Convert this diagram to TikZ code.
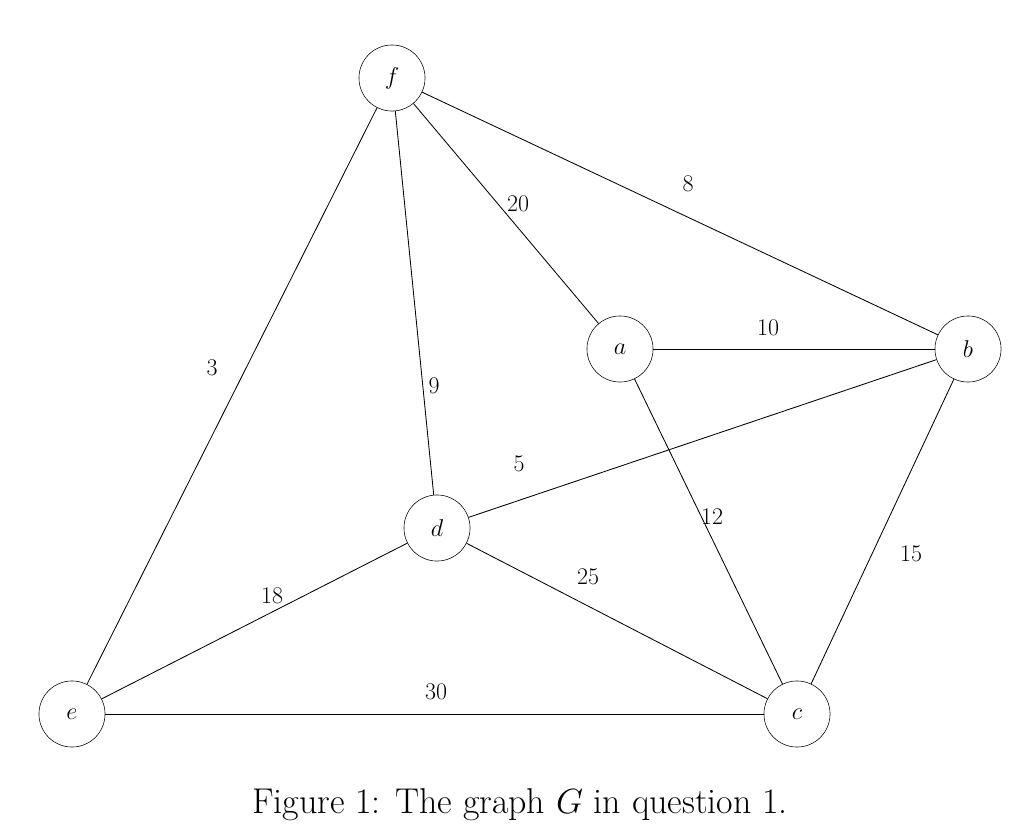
\documentclass[tikz,border=0pt]{standalone}
\begin{document}
\begin{tikzpicture}[x=0.025cm,y=-0.025cm,
  vtx/.style={draw,circle,minimum size=47pt,inner sep=0pt,font=\fontsize{17}{20}\selectfont},
  lbl/.style={font=\fontsize{17}{20}\selectfont,inner sep=1pt},
  edge/.style={draw,line width=0.6pt}]
\useasboundingbox (0,0) rectangle (1024,834);
\node[vtx] (f) at (392,78) {$f$};
\node[vtx] (a) at (620,349) {$a$};
\node[vtx] (b) at (968,349) {$b$};
\node[vtx] (d) at (437,528) {$d$};
\node[vtx] (e) at (72,714) {$e$};
\node[vtx] (c) at (797,714) {$c$};
\draw[edge] (f) -- (a);
\draw[edge] (f) -- (b);
\draw[edge] (f) -- (d);
\draw[edge] (f) -- (e);
\draw[edge] (a) -- (b);
\draw[edge] (a) -- (c);
\draw[edge] (d) -- (b);
\draw[edge] (b) -- (c);
\draw[edge] (d) -- (e);
\draw[edge] (d) -- (c);
\draw[edge] (e) -- (c);
\node[lbl] (l20) at (518,204) {20};
\node[lbl] (l8) at (688,184) {8};
\node[lbl] (l10) at (768,328) {10};
\node[lbl] (l3) at (212,368) {3};
\node[lbl] (l9) at (434,386) {9};
\node[lbl] (l5) at (519,464) {5};
\node[lbl] (l12) at (712,517) {12};
\node[lbl] (l15) at (911,554) {15};
\node[lbl] (l18) at (272,596) {18};
\node[lbl] (l25) at (588,577) {25};
\node[lbl] (l30) at (436,692) {30};
\node[font=\fontsize{25.5}{30}\selectfont] (cap) at (520,805) {Figure 1: The graph $G$ in question 1.};
\end{tikzpicture}
\end{document}
